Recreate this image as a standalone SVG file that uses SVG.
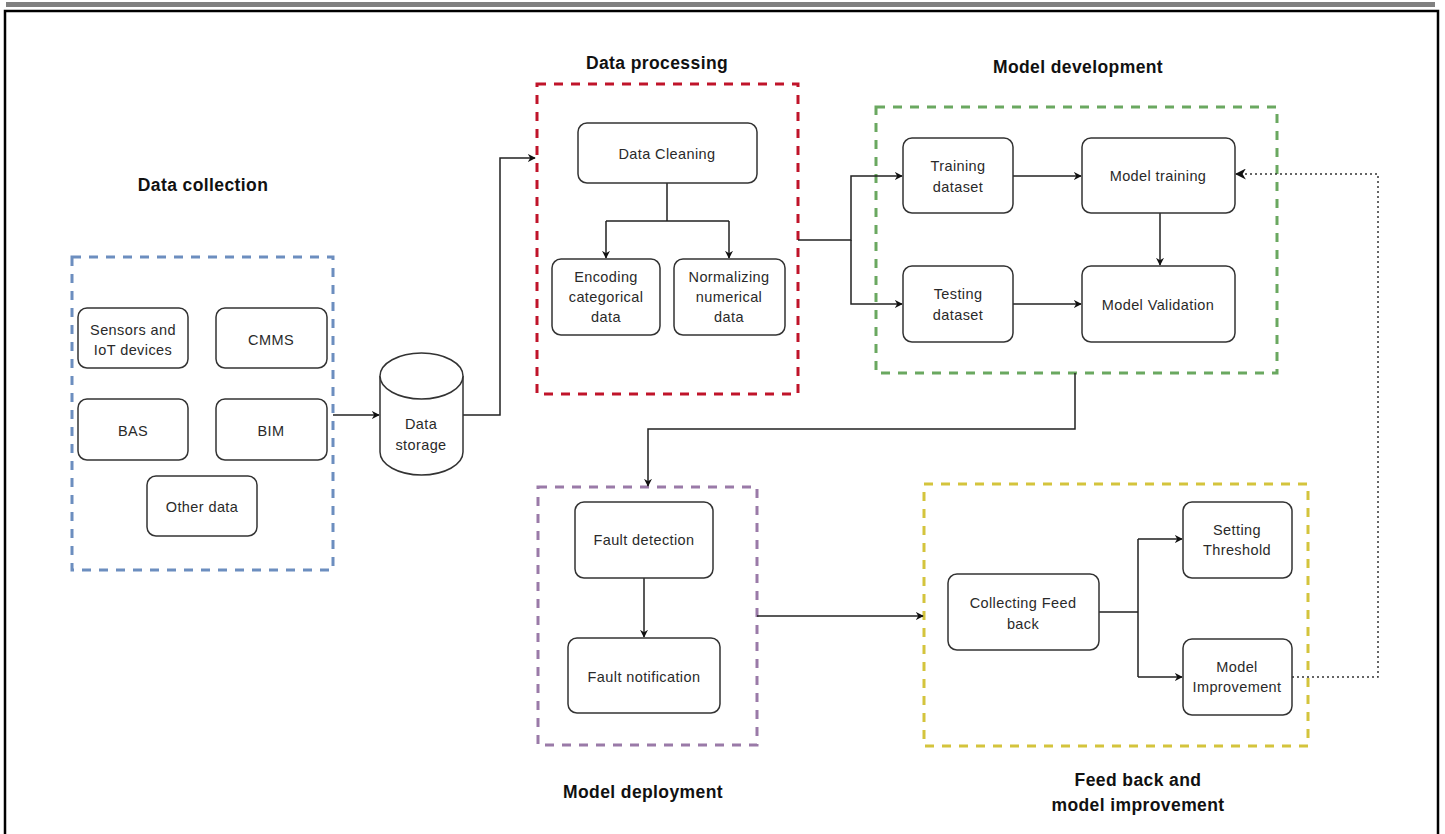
<svg xmlns="http://www.w3.org/2000/svg" width="1445" height="834" viewBox="0 0 1445 834">
<defs>
<style>
.node{fill:#fff;stroke:#333;stroke-width:1.5}
.t{font-family:"Liberation Sans",Arial,sans-serif;font-size:14.5px;letter-spacing:0.4px;fill:#2a2a2a;text-anchor:middle}
.title{font-family:"Liberation Sans",Arial,sans-serif;font-size:17.5px;letter-spacing:0.4px;font-weight:bold;fill:#111;text-anchor:middle}
.grp{fill:none;stroke-width:3;stroke-dasharray:9 8}
.c{fill:none;stroke:#222;stroke-width:1.5}
.dot{fill:none;stroke:#333;stroke-width:1.5;stroke-dasharray:2 3}
</style>
<marker id="arr" viewBox="0 0 10 10" refX="9" refY="5" markerWidth="8" markerHeight="8" orient="auto" markerUnits="userSpaceOnUse"><path d="M0,0 L10,5 L0,10 L3,5 Z" fill="#111"/></marker>
<marker id="arr2" viewBox="0 0 10 10" refX="9" refY="5" markerWidth="11" markerHeight="11" orient="auto" markerUnits="userSpaceOnUse"><path d="M0,0 L10,5 L0,10 L3,5 Z" fill="#111"/></marker>
</defs>
<rect width="1445" height="834" fill="#fff"/>
<rect x="6" y="2" width="1429" height="5" fill="#808080"/>
<path d="M5,840 L5,11 L1438,11 L1438,840" fill="none" stroke="#000" stroke-width="2.5"/>

<g id="group-collection">
<rect class="grp" x="72" y="257" width="261" height="313" stroke="#6c8ebf"/>
<text class="title" x="203" y="191">Data collection</text>
</g>
<g id="group-processing">
<rect class="grp" x="537" y="84" width="261" height="310" stroke="#c0142a"/>
<text class="title" x="657" y="69">Data processing</text>
</g>
<g id="group-development">
<rect class="grp" x="876" y="107" width="401" height="266" stroke="#6aa860"/>
<text class="title" x="1078" y="73">Model development</text>
</g>
<g id="group-deployment">
<rect class="grp" x="538" y="487" width="219" height="258" stroke="#9a7aa8"/>
<text class="title" x="643" y="798">Model deployment</text>
</g>
<g id="group-feedback">
<rect class="grp" x="924" y="484" width="384" height="262" stroke="#d4c43c"/>
<text class="title" x="1138" y="786">Feed back and</text>
<text class="title" x="1138" y="811">model improvement</text>
</g>

<g id="connectors">
<path class="c" d="M333,415 L379,415" marker-end="url(#arr)"/>
<path class="c" d="M463,415 L500,415 L500,158 L535,158" marker-end="url(#arr)"/>
<path class="c" d="M667,183 L667,221 M606,221 L729,221 M606,221 L606,258" marker-end="url(#arr)"/>
<path class="c" d="M729,221 L729,258" marker-end="url(#arr)"/>
<path class="c" d="M798,240 L851,240 L851,176 L902,176" marker-end="url(#arr)"/>
<path class="c" d="M851,240 L851,304 L902,304" marker-end="url(#arr)"/>
<path class="c" d="M1013,176 L1081,176" marker-end="url(#arr)"/>
<path class="c" d="M1013,304 L1081,304" marker-end="url(#arr)"/>
<path class="c" d="M1160,213 L1160,265" marker-end="url(#arr)"/>
<path class="c" d="M1075,373 L1075,429 L648,429 L648,486" marker-end="url(#arr)"/>
<path class="c" d="M644,578 L644,637" marker-end="url(#arr)"/>
<path class="c" d="M757,616 L923,616" marker-end="url(#arr)"/>
<path class="c" d="M1099,612 L1138,612 M1138,539 L1138,677 M1138,539 L1182,539" marker-end="url(#arr)"/>
<path class="c" d="M1138,677 L1182,677" marker-end="url(#arr)"/>
<path class="dot" d="M1292,677 L1378,677 L1378,174 L1236,174" marker-end="url(#arr2)"/>
</g>

<g id="node-sensors"><rect class="node" x="78" y="308" width="110" height="60" rx="9"/><text class="t" x="133" y="335">Sensors and</text><text class="t" x="133" y="355">IoT devices</text></g>
<g id="node-cmms"><rect class="node" x="216" y="308" width="111" height="60" rx="9"/><text class="t" x="271" y="345">CMMS</text></g>
<g id="node-bas"><rect class="node" x="78" y="399" width="110" height="61" rx="9"/><text class="t" x="133" y="436">BAS</text></g>
<g id="node-bim"><rect class="node" x="216" y="399" width="111" height="61" rx="9"/><text class="t" x="271" y="436">BIM</text></g>
<g id="node-other"><rect class="node" x="147" y="476" width="110" height="60" rx="9"/><text class="t" x="202" y="512">Other data</text></g>

<g id="node-storage">
<path class="node" d="M380,376 L380,452 A41.5,23 0 0 0 463,452 L463,376"/>
<ellipse class="node" cx="421.5" cy="376" rx="41.5" ry="23"/>
<text class="t" x="421" y="429">Data</text><text class="t" x="421" y="450">storage</text>
</g>

<g id="node-cleaning"><rect class="node" x="578" y="123" width="179" height="60" rx="9"/><text class="t" x="667" y="159">Data Cleaning</text></g>
<g id="node-encoding"><rect class="node" x="552" y="259" width="108" height="76" rx="9"/><text class="t" x="606" y="282">Encoding</text><text class="t" x="606" y="302">categorical</text><text class="t" x="606" y="322">data</text></g>
<g id="node-normalizing"><rect class="node" x="674" y="259" width="111" height="76" rx="9"/><text class="t" x="729" y="282">Normalizing</text><text class="t" x="729" y="302">numerical</text><text class="t" x="729" y="322">data</text></g>

<g id="node-training-ds"><rect class="node" x="903" y="138" width="110" height="75" rx="9"/><text class="t" x="958" y="171">Training</text><text class="t" x="958" y="192">dataset</text></g>
<g id="node-model-training"><rect class="node" x="1082" y="138" width="153" height="75" rx="9"/><text class="t" x="1158" y="181">Model training</text></g>
<g id="node-testing-ds"><rect class="node" x="903" y="266" width="110" height="76" rx="9"/><text class="t" x="958" y="299">Testing</text><text class="t" x="958" y="320">dataset</text></g>
<g id="node-validation"><rect class="node" x="1082" y="266" width="153" height="76" rx="9"/><text class="t" x="1158" y="310">Model Validation</text></g>

<g id="node-fault-detection"><rect class="node" x="575" y="502" width="138" height="76" rx="9"/><text class="t" x="644" y="545">Fault detection</text></g>
<g id="node-fault-notification"><rect class="node" x="568" y="638" width="152" height="75" rx="9"/><text class="t" x="644" y="682">Fault notification</text></g>

<g id="node-collecting"><rect class="node" x="948" y="574" width="151" height="76" rx="9"/><text class="t" x="1023" y="608">Collecting Feed</text><text class="t" x="1023" y="629">back</text></g>
<g id="node-threshold"><rect class="node" x="1183" y="502" width="109" height="76" rx="9"/><text class="t" x="1237" y="535">Setting</text><text class="t" x="1237" y="555">Threshold</text></g>
<g id="node-improvement"><rect class="node" x="1183" y="639" width="109" height="76" rx="9"/><text class="t" x="1237" y="672">Model</text><text class="t" x="1237" y="692">Improvement</text></g>
</svg>
